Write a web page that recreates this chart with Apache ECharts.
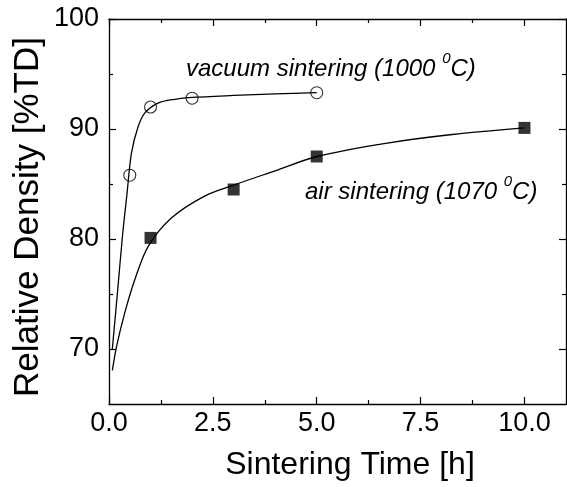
<!DOCTYPE html>
<html><head><meta charset="utf-8">
<script src="https://cdn.jsdelivr.net/npm/echarts@6/dist/echarts.min.js"></script>
<style>html,body{margin:0;padding:0;background:#fff}#c{width:567px;height:487px}</style>
</head><body><div id="c"></div>
<script>
// measured points
const vacuumTime = [0.5, 1, 2, 5];
const vacuumDensity = [85.8, 92.0, 92.8, 93.3];
const airTime = [1, 3, 5, 10];
const airDensity = [80.1, 84.5, 87.5, 90.1];
// fitted curves
const vacuumFitTime = [0.08, 0.21, 0.33, 0.43, 0.54, 0.7, 0.86, 1.18, 1.58, 2, 3, 4, 5];
const vacuumFitDensity = [70, 75.4, 80.5, 84, 87.8, 90.2, 91.45, 92.36, 92.7, 92.87, 93.05, 93.2, 93.3];
const airFitTime = [0.08, 0.18, 0.38, 0.62, 0.94, 1.5, 2.3, 3, 4, 5, 6.66, 8.26, 10];
const airFitDensity = [68.05, 70.2, 73.3, 76.3, 79.3, 81.9, 83.9, 84.9, 86.2, 87.5, 88.7, 89.5, 90.1];
// ticks
const xMajor = [0, 2.5, 5, 7.5, 10];
const xMinor = [1.25, 3.75, 6.25, 8.75];
const yMajor = [70, 80, 90, 100];
const yMinor = [75, 85, 95];

const FONT = 'Liberation Sans, Arial, sans-serif';
const zip = (a, b) => a.map((v, i) => [v, b[i]]);

function xAx(pos, ticks, len, showLine, labels) {
  return {type: 'value', position: pos, min: 0, max: 11,
    axisLine: {show: showLine, onZero: false, lineStyle: {color: '#000', width: 1.3}},
    axisTick: {show: true, inside: true, length: len, customValues: ticks, lineStyle: {color: '#000', width: 1.2}},
    axisLabel: labels ? {show: true, customValues: xMajor, margin: 6, color: '#000', fontSize: 27, fontFamily: FONT,
      formatter: v => v.toFixed(1)} : {show: false},
    splitLine: {show: false}};
}
function yAx(pos, ticks, len, showLine, labels) {
  return {type: 'value', position: pos, min: 65, max: 100,
    axisLine: {show: showLine, onZero: false, lineStyle: {color: '#000', width: 1.3}},
    axisTick: {show: true, inside: true, length: len, customValues: ticks, lineStyle: {color: '#000', width: 1.2}},
    axisLabel: labels ? {show: true, customValues: yMajor, margin: 10, color: '#000', fontSize: 27, fontFamily: FONT} : {show: false},
    splitLine: {show: false}};
}

const chart = echarts.init(document.getElementById('c'), null, {renderer: 'canvas'});
const rich = {
  n: {fontSize: 24, fontStyle: 'italic', fontFamily: FONT, color: '#000', lineHeight: 30, verticalAlign: 'bottom'},
  s: {fontSize: 15, fontStyle: 'italic', fontFamily: FONT, color: '#000', lineHeight: 15, verticalAlign: 'top'}
};
chart.setOption({
  animation: false,
  backgroundColor: '#fff',
  grid: {left: 109, top: 19, right: 1, bottom: 83},
  xAxis: [xAx('bottom', xMajor, 7, true, true), xAx('bottom', xMinor, 4, false, false),
          xAx('top', xMajor, 7, true, false), xAx('top', xMinor, 4, false, false)],
  yAxis: [yAx('left', yMajor, 7, true, true), yAx('left', yMinor, 4, false, false),
          yAx('right', yMajor, 7, true, false), yAx('right', yMinor, 4, false, false)],
  series: [
    {type: 'line', data: zip(vacuumFitTime, vacuumFitDensity), smooth: 0.3, showSymbol: false,
      lineStyle: {color: '#000', width: 1.3}},
    {type: 'line', data: zip(airFitTime, airFitDensity), smooth: 0.3, showSymbol: false,
      lineStyle: {color: '#000', width: 1.3}},
    {type: 'scatter', data: zip(vacuumTime, vacuumDensity), symbol: 'circle', symbolSize: 12,
      itemStyle: {color: '#fff', borderColor: '#000', borderWidth: 1.1}},
    {type: 'scatter', data: zip(airTime, airDensity), symbol: 'rect', symbolSize: 12,
      itemStyle: {color: '#000'}}
  ],
  graphic: [
    {type: 'text', left: 186, top: 51, style: {text: '{n|vacuum sintering (1000 }{s|0}{n|C)}', rich: rich}},
    {type: 'text', left: 305, top: 174, style: {text: '{n|air sintering (1070 }{s|0}{n|C)}', rich: rich}},
    {type: 'text', x: 350, y: 465, style: {text: 'Sintering Time [h]', font: '32px ' + FONT, fill: '#000',
      textAlign: 'center', textVerticalAlign: 'middle'}},
    {type: 'text', x: 28, y: 217, rotation: Math.PI / 2, style: {text: 'Relative Density [%TD]', font: '35px ' + FONT, fill: '#000',
      textAlign: 'center', textVerticalAlign: 'middle'}}
  ]
});
</script></body></html>
